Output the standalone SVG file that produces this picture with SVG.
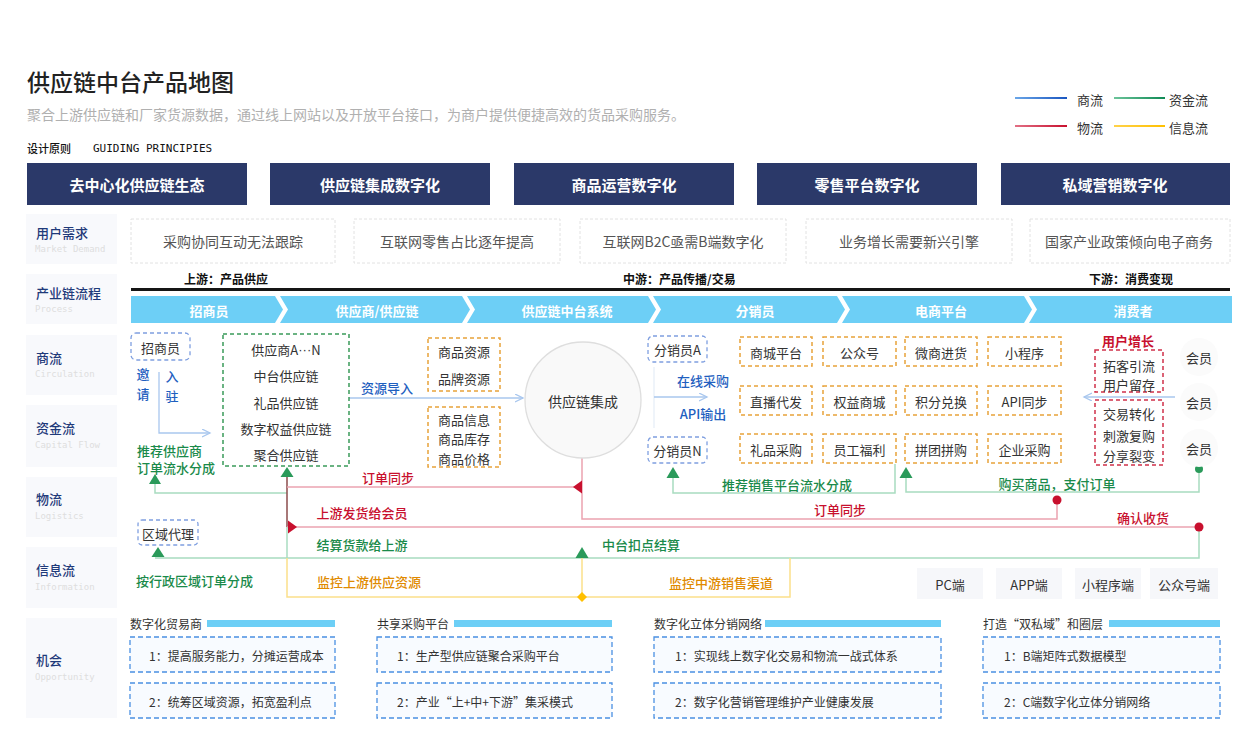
<svg xmlns="http://www.w3.org/2000/svg" width="1254" height="748" viewBox="0 0 1254 748">
<defs>
<style>
text{font-family:"Noto Sans CJK SC","Liberation Sans",sans-serif;dominant-baseline:central}
.mono{font-family:"DejaVu Sans Mono","Liberation Mono",monospace}
.lat{font-family:"Liberation Sans",sans-serif}
.lbl{font-size:13px;fill:#1f3a7a;font-weight:500}
.sub{font-size:9px;fill:#dedede}
.lbox{fill:#f8f9fc}
.pbar{fill:#2b3969}
.ptxt{font-size:15px;fill:#fff;font-weight:700;text-anchor:middle}
.dem{fill:#fff;stroke:#e2e2e2;stroke-dasharray:3 2}
.demt{font-size:14px;fill:#555;text-anchor:middle}
.chev{fill:#6dcff6}
.chevt{font-size:13px;fill:#fff;font-weight:700;text-anchor:middle}
.stage{font-size:12px;fill:#111;font-weight:700}
.t13{font-size:13px;fill:#333;text-anchor:middle}
.bluebox{fill:#fff;stroke:#7f9fe0;stroke-width:1.3;stroke-dasharray:4 3}
.grnbox{fill:none;stroke:#3a9a5a;stroke-width:1.5;stroke-dasharray:4 3}
.orbox{fill:none;stroke:#e8a23a;stroke-width:1.5;stroke-dasharray:4 3}
.redbox{fill:none;stroke:#d0304a;stroke-width:1.5;stroke-dasharray:4 3}
.blt{font-size:13px;fill:#1f5fbf;font-weight:500}
.gt{font-size:13px;fill:#1a8a4a;font-weight:500}
.rt{font-size:13px;fill:#c8102e;font-weight:500}
.ot{font-size:13px;fill:#e08a00;font-weight:500}
.lb{fill:none;stroke:#a9c7ee;stroke-width:1.3}
.lg{fill:none;stroke:#a8dcc0;stroke-width:1.5}
.lr{fill:none;stroke:#eba3b0;stroke-width:1.5}
.ly{fill:none;stroke:#fbe08a;stroke-width:1.5}
.ldk{fill:none;stroke:#8b4b4b;stroke-width:1.5}
.tg{fill:#2a9a5a}
.tr{fill:#c8102e}
.dev{fill:#f6f7fa}
.opbox{fill:#f8fbff;stroke:#4a90e2;stroke-width:1.3;stroke-dasharray:5 3}
.opbar{fill:#6dcff6}
.oph{font-size:12px;fill:#333}
.opt{font-size:12px;fill:#333}
.leg{font-size:13px;fill:#333}
</style>
<marker id="oa" markerWidth="10" markerHeight="10" refX="8" refY="4" orient="auto" markerUnits="userSpaceOnUse">
<path d="M0,0 L8,4 L0,8" fill="none" stroke="#a9c7ee" stroke-width="1.3"/>
</marker>
<linearGradient id="gb" x1="0" x2="1" y1="0" y2="0"><stop offset="0" stop-color="#6aa6e8"/><stop offset="1" stop-color="#1a56c0"/></linearGradient>
<linearGradient id="gg" x1="0" x2="1" y1="0" y2="0"><stop offset="0" stop-color="#6cc49a"/><stop offset="1" stop-color="#0f8a55"/></linearGradient>
<linearGradient id="gr" x1="0" x2="1" y1="0" y2="0"><stop offset="0" stop-color="#e27085"/><stop offset="1" stop-color="#c8102e"/></linearGradient>
<linearGradient id="gy" x1="0" x2="1" y1="0" y2="0"><stop offset="0" stop-color="#ffd24a"/><stop offset="1" stop-color="#ffc000"/></linearGradient>
</defs>
<rect width="1254" height="748" fill="#fff"/>

<g id="header">
<text x="27" y="81" style="font-size:23px;fill:#222;font-weight:500">供应链中台产品地图</text>
<text x="27" y="114" style="font-size:14px;fill:#b0b0b0">聚合上游供应链和厂家货源数据，通过线上网站以及开放平台接口，为商户提供便捷高效的货品采购服务。</text>
<text x="27" y="148" style="font-size:11px;fill:#111;font-weight:500">设计原则</text>
<text x="93" y="148" class="mono" style="font-size:11px;fill:#111">GUIDING PRINCIPIES</text>
</g>

<g id="legend">
<rect x="1015" y="97" width="52" height="2" fill="url(#gb)"/>
<text x="1077" y="99" class="leg">商流</text>
<rect x="1114" y="97" width="51" height="2" fill="url(#gg)"/>
<text x="1169" y="99" class="leg">资金流</text>
<rect x="1015" y="125" width="52" height="2" fill="url(#gr)"/>
<text x="1077" y="127" class="leg">物流</text>
<rect x="1114" y="125" width="51" height="2" fill="url(#gy)"/>
<text x="1169" y="127" class="leg">信息流</text>
</g>

<g id="principles">
<rect x="27" y="163" width="220" height="42" class="pbar"/><text x="137" y="184" class="ptxt">去中心化供应链生态</text>
<rect x="270" y="163" width="220" height="42" class="pbar"/><text x="380" y="184" class="ptxt">供应链集成数字化</text>
<rect x="514" y="163" width="220" height="42" class="pbar"/><text x="624" y="184" class="ptxt">商品运营数字化</text>
<rect x="757" y="163" width="220" height="42" class="pbar"/><text x="867" y="184" class="ptxt">零售平台数字化</text>
<rect x="1001" y="163" width="229" height="42" class="pbar"/><text x="1115" y="184" class="ptxt">私域营销数字化</text>
</g>

<g id="row-labels">
<rect x="26" y="214" width="91" height="50" class="lbox"/><text x="36" y="232" class="lbl">用户需求</text><text x="35" y="249" class="mono sub">Market Demand</text>
<rect x="26" y="274" width="91" height="50" class="lbox"/><text x="36" y="292" class="lbl">产业链流程</text><text x="35" y="309" class="mono sub">Process</text>
<rect x="26" y="335" width="91" height="60" class="lbox"/><text x="36" y="357" class="lbl">商流</text><text x="35" y="374" class="mono sub">Circulation</text>
<rect x="26" y="405" width="91" height="62" class="lbox"/><text x="36" y="427" class="lbl">资金流</text><text x="35" y="445" class="mono sub">Capital Flow</text>
<rect x="26" y="477" width="91" height="60" class="lbox"/><text x="36" y="498" class="lbl">物流</text><text x="35" y="516" class="mono sub">Logistics</text>
<rect x="26" y="547" width="91" height="61" class="lbox"/><text x="36" y="569" class="lbl">信息流</text><text x="35" y="587" class="mono sub">Information</text>
<rect x="26" y="618" width="91" height="100" class="lbox"/><text x="36" y="659" class="lbl">机会</text><text x="35" y="677" class="mono sub">Opportunity</text>
</g>

<g id="demand">
<rect x="131" y="219" width="204" height="44" class="dem"/><text x="233" y="241" class="demt">采购协同互动无法跟踪</text>
<rect x="354" y="219" width="206" height="44" class="dem"/><text x="457" y="241" class="demt">互联网零售占比逐年提高</text>
<rect x="580" y="219" width="206" height="44" class="dem"/><text x="683" y="241" class="demt">互联网B2C亟需B端数字化</text>
<rect x="806" y="219" width="206" height="44" class="dem"/><text x="909" y="241" class="demt">业务增长需要新兴引擎</text>
<rect x="1030" y="219" width="200" height="44" class="dem"/><text x="1129" y="241" class="demt">国家产业政策倾向电子商务</text>
</g>

<g id="process">
<text x="184" y="278" class="stage">上游：产品供应</text>
<text x="623" y="278" class="stage">中游：产品传播/交易</text>
<text x="1089" y="278" class="stage">下游：消费变现</text>
<rect x="131" y="288" width="1099" height="3" fill="#151515"/>
<path d="M131,296 L275,296 L283,309.5 L275,323 L131,323 Z" class="chev"/><text x="209" y="310" class="chevt">招商员</text>
<path d="M280,296 L462,296 L470,309.5 L462,323 L280,323 L288,309.5 Z" class="chev"/><text x="377" y="310" class="chevt">供应商/供应链</text>
<path d="M467,296 L648,296 L656,309.5 L648,323 L467,323 L475,309.5 Z" class="chev"/><text x="567" y="310" class="chevt">供应链中台系统</text>
<path d="M653,296 L837,296 L845,309.5 L837,323 L653,323 L661,309.5 Z" class="chev"/><text x="755" y="310" class="chevt">分销员</text>
<path d="M842,296 L1024,296 L1032,309.5 L1024,323 L842,323 L850,309.5 Z" class="chev"/><text x="941" y="310" class="chevt">电商平台</text>
<path d="M1029,296 L1232,296 L1232,323 L1029,323 L1037,309.5 Z" class="chev"/><text x="1133" y="310" class="chevt">消费者</text>
</g>

<g id="connectors">
<path d="M159,372 L159,433 L210,433" class="lb" marker-end="url(#oa)"/>
<path d="M349,398 L523,398" class="lb" marker-end="url(#oa)"/>
<path d="M654,367 L654,428" class="lb" style="stroke:#e6eef8"/>
<path d="M654,397 L707,397" class="lb" marker-end="url(#oa)"/>
<path d="M1175,397 L1084,397" class="lb" marker-end="url(#oa)"/>
<path d="M155,484 L155,493 L287,493" class="lg"/>
<path d="M673,478 L673,493 L895,493 L895,464" class="lg"/>
<path d="M1199,469 L1199,492 L906,492 L906,478" class="lg"/>
<path d="M287,477 L287,527" class="ldk"/>
<path d="M287,487 L582,487" class="lr"/>
<path d="M582,458 L582,519 L1057,519 L1057,500" class="lr"/>
<path d="M287,527 L1199,527" class="lr"/>
<path d="M287,527 L287,558" class="lg"/>
<path d="M155,558 L1199,558 L1199,527" class="lg"/>
<path d="M287,558 L287,597 L790,597 L790,558" class="ly"/>
<path d="M582,558 L582,597" class="ly"/>
<path d="M287,467 L293.5,477 L280.5,477 Z" class="tg"/>
<path d="M155,474 L161,484 L149,484 Z" class="tg"/>
<path d="M673,467 L679.5,478 L666.5,478 Z" class="tg"/>
<path d="M906,467 L912.5,478 L899.5,478 Z" class="tg"/>
<path d="M158,547 L164.5,557 L151.5,557 Z" class="tg"/>
<path d="M582,547 L588.5,558 L575.5,558 Z" class="tg"/>
<path d="M573,487 L582,480.5 L582,493.5 Z" class="tr"/>
<path d="M297,527 L288,520.5 L288,533.5 Z" class="tr"/>
<circle cx="1199" cy="469" r="4" class="tg"/>
<circle cx="1057" cy="500" r="4.5" class="tr"/>
<circle cx="1199" cy="527" r="4.5" class="tr"/>
<path d="M582,592 L587,597 L582,602 L577,597 Z" fill="#ffc000"/>
</g>

<g id="connector-labels">
<text x="143" y="373" class="blt" text-anchor="middle">邀</text>
<text x="143" y="393" class="blt" text-anchor="middle">请</text>
<text x="172" y="375" class="blt" text-anchor="middle">入</text>
<text x="172" y="395" class="blt" text-anchor="middle">驻</text>
<text x="387" y="387" class="blt" text-anchor="middle">资源导入</text>
<text x="703" y="380" class="blt" text-anchor="middle">在线采购</text>
<text x="703" y="413" class="blt" text-anchor="middle">API输出</text>
<text x="137" y="450" class="gt">推荐供应商</text>
<text x="137" y="467" class="gt">订单流水分成</text>
<text x="388" y="477" class="rt" text-anchor="middle">订单同步</text>
<text x="787" y="484" class="gt" text-anchor="middle">推荐销售平台流水分成</text>
<text x="1057" y="483" class="gt" text-anchor="middle">购买商品，支付订单</text>
<text x="362" y="512" class="rt" text-anchor="middle">上游发货给会员</text>
<text x="840" y="509" class="rt" text-anchor="middle">订单同步</text>
<text x="1143" y="517" class="rt" text-anchor="middle">确认收货</text>
<text x="362" y="544" class="gt" text-anchor="middle">结算货款给上游</text>
<text x="641" y="544" class="gt" text-anchor="middle">中台扣点结算</text>
<text x="136" y="580" class="gt">按行政区域订单分成</text>
<text x="369" y="581" class="ot" text-anchor="middle">监控上游供应资源</text>
<text x="721" y="582" class="ot" text-anchor="middle">监控中游销售渠道</text>
</g>

<g id="node-zhaoshang"><rect x="131" y="333" width="59" height="27" rx="5" class="bluebox"/><text x="160.5" y="347" class="t13">招商员</text></g>

<g id="node-suppliers">
<rect x="223" y="334" width="126" height="132" class="grnbox"/>
<text x="286" y="349" class="t13">供应商A<tspan class="lat">···</tspan>N</text>
<text x="286" y="375" class="t13">中台供应链</text>
<text x="286" y="402" class="t13">礼品供应链</text>
<text x="286" y="428" class="t13">数字权益供应链</text>
<text x="286" y="454" class="t13">聚合供应链</text>
</g>

<g id="node-resource1"><rect x="428" y="338" width="72" height="53" class="orbox"/><text x="464" y="351" class="t13">商品资源</text><text x="464" y="378" class="t13">品牌资源</text></g>
<g id="node-resource2"><rect x="428" y="407" width="72" height="60" class="orbox"/><text x="464" y="419" class="t13">商品信息</text><text x="464" y="438" class="t13">商品库存</text><text x="464" y="458" class="t13">商品价格</text></g>

<g id="node-core"><circle cx="583" cy="400" r="58" fill="#f9f9f9" stroke="#dedede" stroke-width="1.3"/><text x="583" y="401" style="font-size:14px;fill:#333;text-anchor:middle">供应链集成</text></g>

<g id="node-distA"><rect x="648" y="336" width="59" height="26" rx="5" class="bluebox"/><text x="677.5" y="349" class="t13">分销员A</text></g>
<g id="node-distN"><rect x="648" y="437" width="59" height="26" rx="5" class="bluebox"/><text x="677.5" y="450" class="t13">分销员N</text></g>

<g id="node-platforms">
<rect x="740" y="337" width="72" height="29" class="orbox"/><text x="776" y="352" class="t13">商城平台</text>
<rect x="823" y="337" width="73" height="29" class="orbox"/><text x="859.5" y="352" class="t13">公众号</text>
<rect x="905" y="337" width="72" height="29" class="orbox"/><text x="941" y="352" class="t13">微商进货</text>
<rect x="988" y="337" width="73" height="29" class="orbox"/><text x="1024.5" y="352" class="t13">小程序</text>
<rect x="740" y="386" width="72" height="29" class="orbox"/><text x="776" y="401" class="t13">直播代发</text>
<rect x="823" y="386" width="73" height="29" class="orbox"/><text x="859.5" y="401" class="t13">权益商城</text>
<rect x="905" y="386" width="72" height="29" class="orbox"/><text x="941" y="401" class="t13">积分兑换</text>
<rect x="988" y="386" width="73" height="29" class="orbox"/><text x="1024.5" y="401" class="t13">API同步</text>
<rect x="740" y="434" width="72" height="29" class="orbox"/><text x="776" y="449" class="t13">礼品采购</text>
<rect x="823" y="434" width="73" height="29" class="orbox"/><text x="859.5" y="449" class="t13">员工福利</text>
<rect x="905" y="434" width="72" height="29" class="orbox"/><text x="941" y="449" class="t13">拼团拼购</text>
<rect x="988" y="434" width="73" height="29" class="orbox"/><text x="1024.5" y="449" class="t13">企业采购</text>
</g>

<g id="node-growth">
<text x="1128" y="340" class="rt" text-anchor="middle" style="font-weight:700">用户增长</text>
<rect x="1095" y="350" width="68" height="42" class="redbox"/>
<text x="1129" y="365" class="t13">拓客引流</text><text x="1129" y="384" class="t13">用户留存</text>
<rect x="1095" y="400" width="68" height="65" class="redbox"/>
<text x="1129" y="413" class="t13">交易转化</text><text x="1129" y="435" class="t13">刺激复购</text><text x="1129" y="455" class="t13">分享裂变</text>
</g>

<g id="node-members">
<circle cx="1199" cy="357" r="19" fill="#fbfbfb"/><text x="1199" y="357" class="t13">会员</text>
<circle cx="1199" cy="402" r="19" fill="#fbfbfb"/><text x="1199" y="402" class="t13">会员</text>
<circle cx="1199" cy="448" r="19" fill="#fbfbfb"/><text x="1199" y="448" class="t13">会员</text>
</g>

<g id="node-region"><rect x="138" y="520" width="60" height="25" rx="4" class="bluebox"/><text x="168" y="533" class="t13">区域代理</text></g>

<g id="node-terminals">
<rect x="917" y="568" width="66" height="31" class="dev"/><text x="950" y="584" class="t13">PC端</text>
<rect x="996" y="568" width="66" height="31" class="dev"/><text x="1029" y="584" class="t13">APP端</text>
<rect x="1075" y="568" width="66" height="31" class="dev"/><text x="1108" y="584" class="t13">小程序端</text>
<rect x="1150" y="568" width="68" height="31" class="dev"/><text x="1184" y="584" class="t13">公众号端</text>
</g>

<g id="opportunities">
<text x="130" y="623" class="oph">数字化贸易商</text>
<rect x="207" y="620" width="128" height="7" class="opbar"/>
<rect x="130" y="637" width="205" height="35" class="opbox"/><text x="149" y="655" class="opt">1：提高服务能力，分摊运营成本</text>
<rect x="130" y="683" width="205" height="35" class="opbox"/><text x="149" y="701" class="opt">2：统筹区域资源，拓宽盈利点</text>

<text x="377" y="623" class="oph">共享采购平台</text>
<rect x="454" y="620" width="158" height="7" class="opbar"/>
<rect x="377" y="637" width="235" height="35" class="opbox"/><text x="397" y="655" class="opt">1：生产型供应链聚合采购平台</text>
<rect x="377" y="683" width="235" height="35" class="opbox"/><text x="397" y="701" class="opt">2：产业“上+中+下游”集采模式</text>

<text x="654" y="623" class="oph">数字化立体分销网络</text>
<rect x="765" y="620" width="176" height="7" class="opbar"/>
<rect x="654" y="637" width="287" height="35" class="opbox"/><text x="675" y="655" class="opt">1：实现线上数字化交易和物流一战式体系</text>
<rect x="654" y="683" width="287" height="35" class="opbox"/><text x="675" y="701" class="opt">2：数字化营销管理维护产业健康发展</text>

<text x="983" y="623" class="oph">打造“双私域”和圈层</text>
<rect x="1109" y="620" width="111" height="7" class="opbar"/>
<rect x="983" y="637" width="237" height="35" class="opbox"/><text x="1004" y="655" class="opt">1：B端矩阵式数据模型</text>
<rect x="983" y="683" width="237" height="35" class="opbox"/><text x="1004" y="701" class="opt">2：C端数字化立体分销网络</text>
</g>
</svg>
